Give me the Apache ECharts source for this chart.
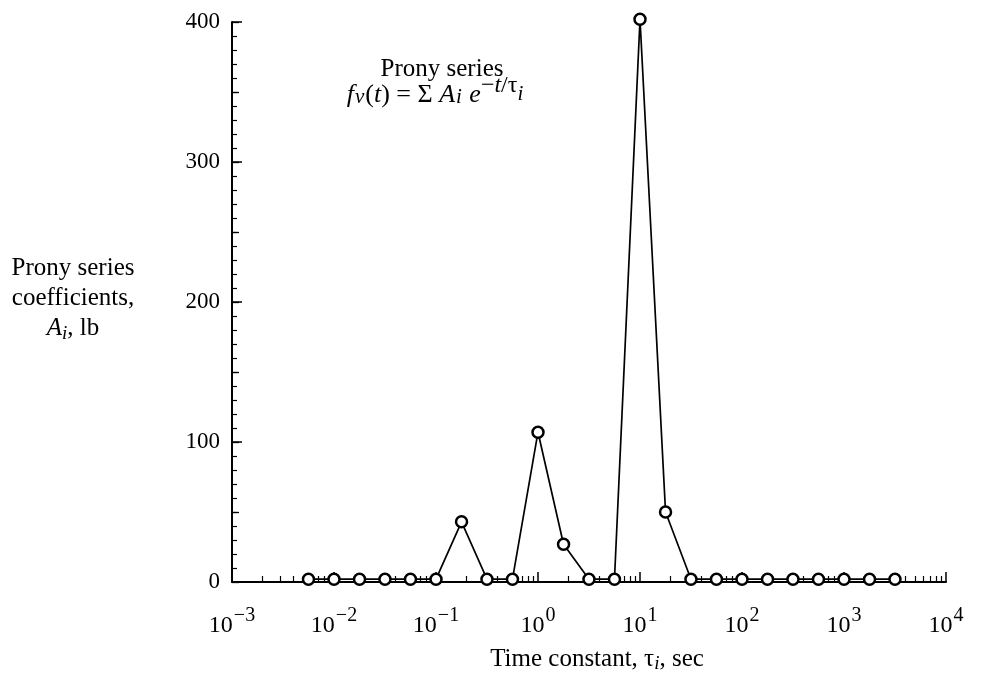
<!DOCTYPE html>
<html>
<head>
<meta charset="utf-8">
<script src="https://cdn.jsdelivr.net/npm/echarts@6/dist/echarts.min.js"></script>
<style>
html,body{margin:0;padding:0;background:#fff;}
#main{width:982px;height:679px;}
</style>
</head>
<body>
<div id="main"></div>
<script>
// Time constants tau_i (sec), quarter-decade spacing
var tau = [0.00562, 0.01, 0.0178, 0.0316, 0.0562, 0.1, 0.178, 0.316, 0.562, 1, 1.78, 3.16,
           5.62, 10, 17.8, 31.6, 56.2, 100, 178, 316, 562, 1000, 1780, 3160];
// Prony series coefficients A_i (lb)
var coef = [2, 2, 2, 2, 2, 2, 43, 2, 2, 107, 27, 2,
            2, 402, 50, 2, 2, 2, 2, 2, 2, 2, 2, 2];
var yTicks = [0, 100, 200, 300, 400];
var xExponents = [-3, -2, -1, 0, 1, 2, 3, 4];

var SERIF = '"Liberation Serif", "Times New Roman", "DejaVu Serif", serif';
var seriesData = tau.map(function (t, i) { return [t, coef[i]]; });

var chart = echarts.init(document.getElementById('main'), null, {renderer: 'canvas'});
var option = {
  backgroundColor: '#ffffff',
  animation: false,
  grid: {left: 232, right: 36, top: 22, bottom: 97, containLabel: false},
  xAxis: {
    type: 'log',
    logBase: 10,
    min: Math.pow(10, xExponents[0]),
    max: Math.pow(10, xExponents[xExponents.length - 1]),
    interval: 1,
    name: 'Time constant, {g|τ}{sub|i}, sec',
    nameLocation: 'middle',
    nameGap: 63,
    nameTextStyle: {
      fontFamily: SERIF, fontSize: 25, color: '#000', padding: [0, 0, 0, 16],
      rich: {
        g: {fontFamily: SERIF, fontSize: 25, color: '#000'},
        sub: {fontFamily: SERIF, fontSize: 19, fontStyle: 'italic', color: '#000', padding: [9, 0, 0, 0]}
      }
    },
    axisLine: {show: true, onZero: false, lineStyle: {color: '#000', width: 2}},
    axisTick: {show: true, inside: true, length: 10, lineStyle: {color: '#000', width: 1.5}},
    minorTick: {show: true, splitNumber: 9, length: 6, lineStyle: {color: '#000', width: 1.2}},
    splitLine: {show: false},
    minorSplitLine: {show: false},
    axisLabel: {
      margin: 30,
      formatter: function (v) {
        var e = Math.round(Math.log(v) / Math.LN10);
        return '{b|10}{s|' + (e < 0 ? '\u2212' + (-e) : e) + '}';
      },
      rich: {
        b: {fontFamily: SERIF, fontSize: 24, color: '#000', verticalAlign: 'bottom', lineHeight: 26},
        s: {fontFamily: SERIF, fontSize: 20, color: '#000', verticalAlign: 'bottom', lineHeight: 26, padding: [0, 0, 12, 1]}
      }
    }
  },
  yAxis: [{
    type: 'value',
    min: yTicks[0],
    max: yTicks[yTicks.length - 1],
    interval: 100,
    axisLine: {show: true, onZero: false, lineStyle: {color: '#000', width: 2}},
    axisTick: {show: true, inside: true, length: 10, lineStyle: {color: '#000', width: 1.5}},
    minorTick: {show: true, splitNumber: 10, length: 5, lineStyle: {color: '#000', width: 1.2}},
    splitLine: {show: false},
    axisLabel: {margin: 12, fontFamily: SERIF, fontSize: 23, color: '#000'}
  }, {
    type: 'value',
    position: 'left',
    min: yTicks[0],
    max: yTicks[yTicks.length - 1],
    interval: 50,
    axisLine: {show: false},
    axisTick: {show: true, inside: true, length: 7, lineStyle: {color: '#000', width: 1.3}},
    axisLabel: {show: false},
    splitLine: {show: false}
  }],
  series: [{
    type: 'line',
    data: seriesData,
    clip: false,
    symbol: 'circle',
    symbolSize: 11,
    showAllSymbol: true,
    lineStyle: {color: '#000', width: 1.7},
    itemStyle: {color: '#fff', borderColor: '#000', borderWidth: 2.5},
    z: 5
  }],
  graphic: [
    {
      type: 'text', x: 73, y: 253,
      style: {
        text: 'Prony series\ncoefficients,\n{it|A}{sub|i}, lb',
        fontFamily: SERIF, fontSize: 25, lineHeight: 30, fill: '#000', align: 'center', verticalAlign: 'top',
        rich: {
          it: {fontFamily: SERIF, fontSize: 25, fontStyle: 'italic', fill: '#000', lineHeight: 30},
          sub: {fontFamily: SERIF, fontSize: 19, fontStyle: 'italic', fill: '#000', padding: [12, 0, 0, 0], lineHeight: 30}
        }
      }
    },
    {
      type: 'text', x: 442, y: 57,
      style: {text: 'Prony series', fontFamily: SERIF, fontSize: 25, fill: '#000', align: 'center', verticalAlign: 'top'}
    },
    {
      type: 'text', x: 435, y: 78,
      style: {
        align: 'center', verticalAlign: 'top',
        text: '{it|f}{sub|ν}{n|(}{it|t}{n|) = Σ }{it|A}{sub|i}{n| }{it|e}{sup|−}{supi|t}{sup|/τ}{supsub|i}',
        rich: {
          it: {fontFamily: SERIF, fontSize: 26, fontStyle: 'italic', fill: '#000', verticalAlign: 'bottom', lineHeight: 30},
          n: {fontFamily: SERIF, fontSize: 26, fill: '#000', verticalAlign: 'bottom', lineHeight: 30},
          sub: {fontFamily: SERIF, fontSize: 21, fontStyle: 'italic', fill: '#000', verticalAlign: 'bottom', lineHeight: 30, padding: [0, 1, 0, 1]},
          sup: {fontFamily: SERIF, fontSize: 24, fill: '#000', verticalAlign: 'bottom', lineHeight: 30, padding: [0, 0, 10, 0]},
          supi: {fontFamily: SERIF, fontSize: 24, fontStyle: 'italic', fill: '#000', verticalAlign: 'bottom', lineHeight: 30, padding: [0, 0, 10, 0]},
          supsub: {fontFamily: SERIF, fontSize: 21, fontStyle: 'italic', fill: '#000', verticalAlign: 'bottom', lineHeight: 30, padding: [0, 0, 3, 0]}
        }
      }
    }
  ]
};
chart.setOption(option);
</script>
</body>
</html>
